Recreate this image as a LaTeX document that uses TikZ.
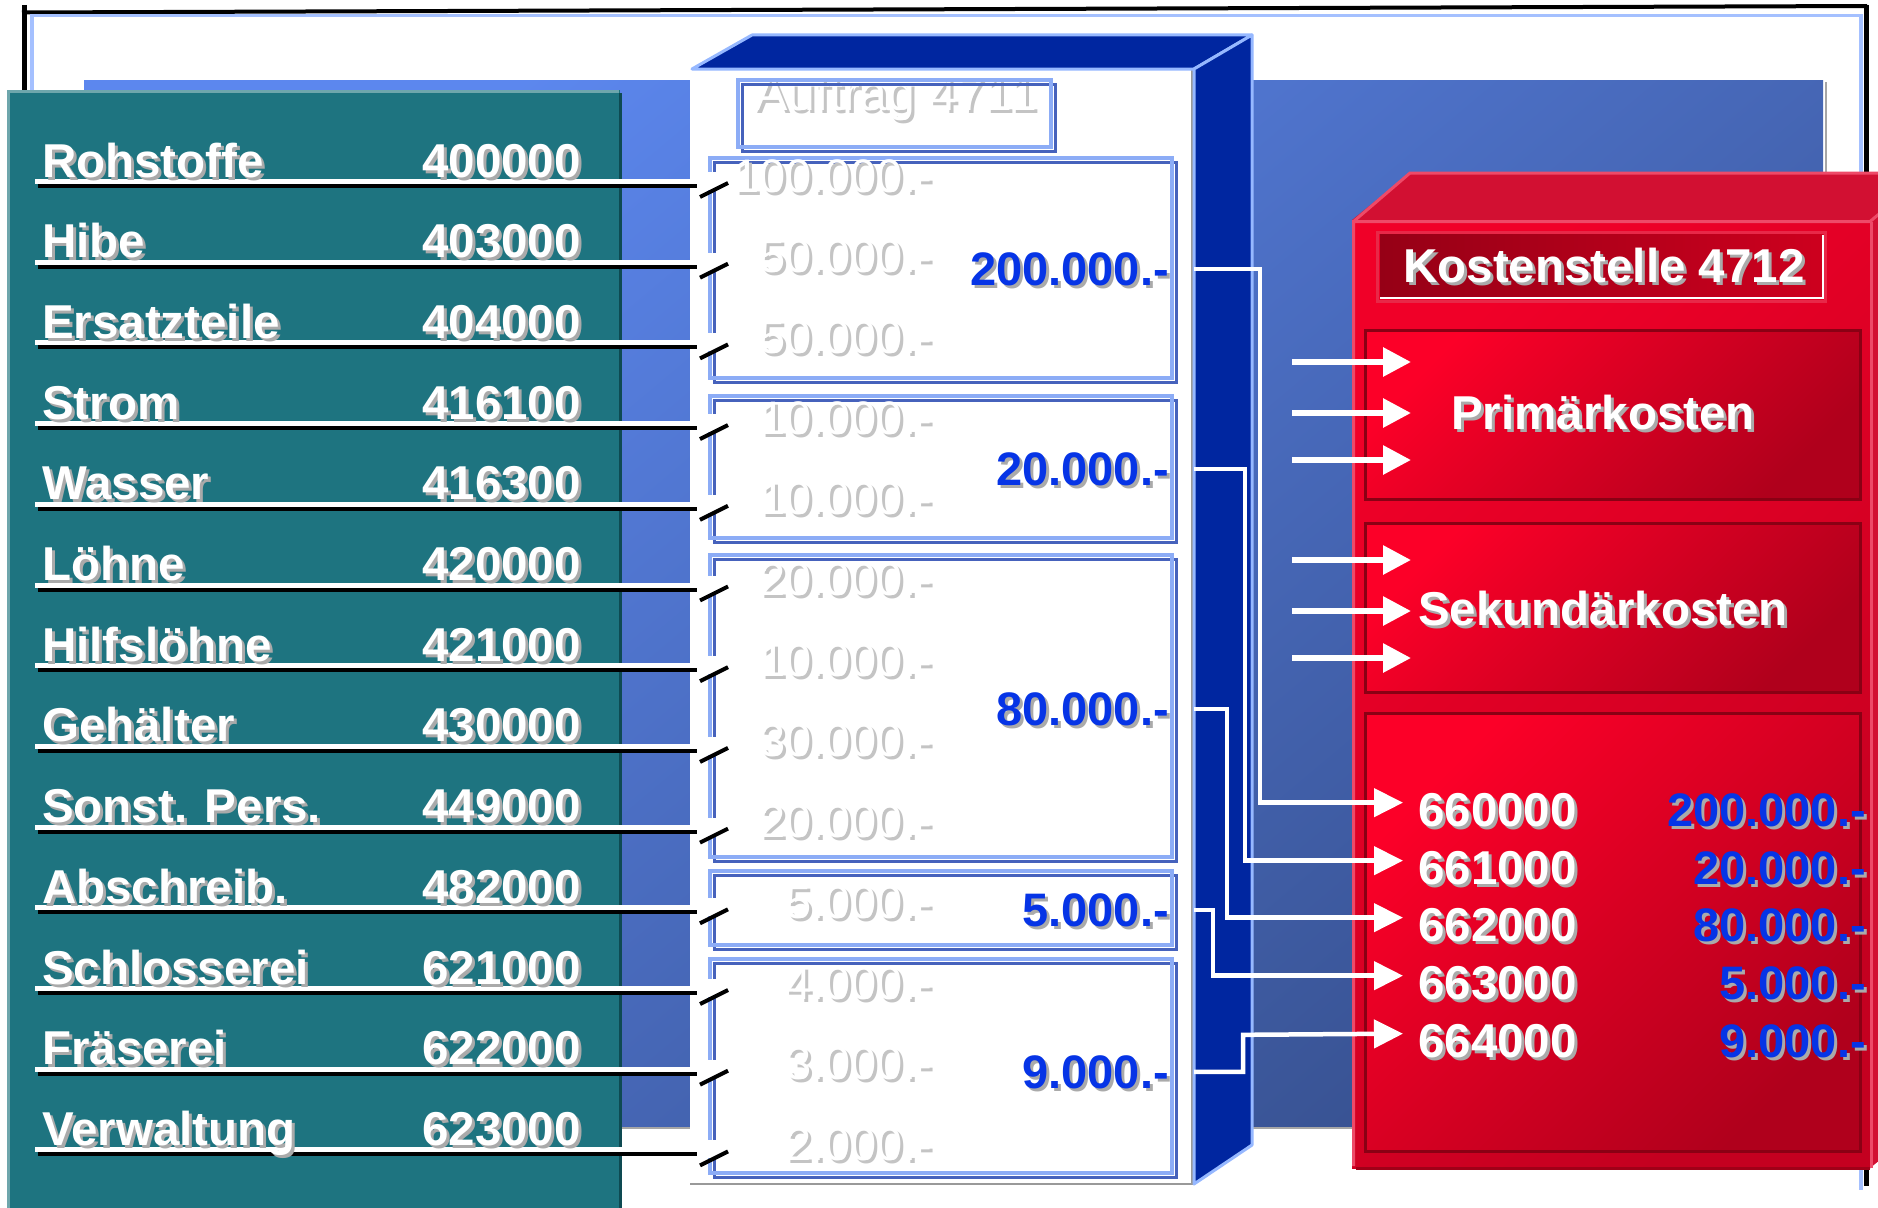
\documentclass[tikz,border=0pt]{standalone}
\usepackage{fontspec}
\setmainfont{Liberation Sans}
\usepackage{xcolor}
\usepackage{tikz}
\usetikzlibrary{arrows.meta}
\usetikzlibrary{calc}
\definecolor{tealbox}{RGB}{30,116,128}
\definecolor{tealedge}{RGB}{110,166,172}
\definecolor{tealdark}{RGB}{14,74,82}
\definecolor{bglight}{RGB}{92,135,238}
\definecolor{bgdark}{RGB}{56,82,146}
\definecolor{frameblue}{RGB}{164,192,255}
\definecolor{cubeblue}{RGB}{0,38,160}
\definecolor{edgeblue}{RGB}{150,184,255}
\definecolor{boxlight}{RGB}{140,172,246}
\definecolor{boxdark}{RGB}{70,98,188}
\definecolor{totblue}{RGB}{6,52,230}
\definecolor{shgrey}{RGB}{170,170,170}
\definecolor{embgrey}{RGB}{196,196,196}
\definecolor{redfront}{RGB}{240,0,40}
\definecolor{reddeep}{RGB}{196,0,32}
\definecolor{redtop}{RGB}{210,16,50}
\definecolor{rededge}{RGB}{238,74,104}
\definecolor{redshadow}{RGB}{160,0,24}
\definecolor{redpanel}{RGB}{138,0,20}
\definecolor{panelhi}{RGB}{252,0,40}
\definecolor{panello}{RGB}{176,0,28}
\definecolor{redtitle}{RGB}{150,0,22}
\definecolor{redtitlehi}{RGB}{205,0,30}
\definecolor{titleedge}{RGB}{232,40,72}
\tikzset{
    lbl/.style={inner sep=0pt, text=white, font=\fontsize{47.5}{47.5}\selectfont\bfseries},
    emb/.style={inner sep=0pt, text=white, font=\fontsize{47}{47}\selectfont},
    tot/.style={inner sep=0pt, text=totblue, font=\fontsize{47}{47}\selectfont\bfseries},
    ordertxt/.style={inner sep=0pt, text=white, font=\fontsize{50}{50}\selectfont},
    conn/.style={draw=white, line width=4.5pt, -{Triangle[length=29pt,width=28pt]}},
    inarrow/.style={draw=white, line width=6pt, -{Triangle[length=28pt,width=28pt]}},
    rowline/.style={line width=4pt, black},
    rowlight/.style={line width=5pt, white},
    slash/.style={line width=4pt, black},
    subbox/.style={draw=boxlight, line width=3.5pt},
    subshade/.style={draw=boxdark, line width=3pt}
}
% text with a grey drop shadow
\newcommand{\shtext}[6][shgrey]{%
    \node[#2, text=#1, anchor=#4] (#3s) at ($#5+(3,3)$) {#6};
    \node[#2, anchor=#4] (#3) at #5 {#6};}
\begin{document}
\begin{tikzpicture}[x=1pt,y=-1pt]
\clip (0,0) rectangle (1878,1207);
\fill[white] (0,0) rectangle (1878,1207);
% frame
\draw[line width=4pt] (22,12.5) -- (1867,6);
\draw[line width=4.5pt] (24.5,5) -- (24.5,92);
\draw[line width=5pt] (1866,5) -- (1866,1186);
\draw[frameblue, line width=3.5pt] (32,92) -- (32,15.5) -- (1861,15.5) -- (1861,1190);
% background
\shade[top color=bglight, bottom color=bgdark, shading angle=40] (84,80) rectangle (1823,1126);
\draw[gray!70, line width=2pt] (1826,82) -- (1826,1128) -- (86,1128);
% accounts
\fill[tealbox] (8,90) rectangle (620,1215);
\draw[tealedge, line width=3pt] (8.5,1215) -- (8.5,91.5) -- (619,91.5);
\draw[tealdark, line width=3pt] (620,93) -- (620,1215);

% order 4711
\fill[white] (690,69) rectangle (1194,1184);
\draw[gray!80, line width=2.5pt] (690,1184) -- (1192,1184) -- (1192,69);
\filldraw[fill=cubeblue, draw=edgeblue, line width=3pt, line join=round] (692,69) -- (752,35) -- (1252,35) -- (1194,69) -- cycle;
\filldraw[fill=cubeblue, draw=edgeblue, line width=3pt, line join=round] (1194,69) -- (1252,35) -- (1252,1145) -- (1194,1184) -- cycle;
\begin{scope}
    \clip (740,82) rectangle (1049,145);
    \shtext[embgrey]{ordertxt}{order}{base west}{(754,110)}{Auftrag 4711}
\end{scope}
\foreach \xa/\ya/\xb/\yb in {738/80/1051/147, 710/158/1172/378, 710/396/1172/538, 710/555/1172/857, 710/871/1172/945, 710/959/1172/1173}
{
    \draw[subshade] (\xa+4,\ya+4) rectangle (\xb+4,\yb+4);
    \draw[subbox] (\xa,\ya) rectangle (\xb,\yb);
}

\foreach \nm/\nr/\sub [count=\i] in {Rohstoffe/400000/100.000.-, Hibe/403000/50.000.-, Ersatzteile/404000/50.000.-, Strom/416100/10.000.-, Wasser/416300/10.000.-, Löhne/420000/20.000.-, Hilfslöhne/421000/10.000.-, Gehälter/430000/30.000.-, Sonst. Pers./449000/20.000.-, Abschreib./482000/5.000.-, Schlosserei/621000/4.000.-, Fräserei/622000/3.000.-, Verwaltung/623000/2.000.-}
{
    \pgfmathsetmacro{\yl}{186+80.7*(\i-1)}
    \pgfmathsetmacro{\we}{\i==13 ? 622 : 690}
    \coordinate (l\i) at (38,\yl);
    \coordinate (r\i) at (697,\yl);
    \draw[rowlight] (35,\yl-4.5) -- (\we,\yl-4.5);
    \draw[rowline] (l\i) -- (r\i);
    \fill[white] ($(r\i)+(7,-14)$) rectangle ($(r\i)+(20,4)$);
    \draw[slash] ($(r\i)+(3,11)$) -- ($(r\i)+(31,-3)$);
    \shtext{lbl}{n\i}{base west}{(42,\yl-9)}{\nm}
    \shtext{lbl}{k\i}{base east}{(581,\yl-9)}{\nr}
    \shtext[embgrey]{emb}{s\i}{base east}{(932,\yl+6)}{\sub}
}
\shtext{tot}{t1}{base east}{(1169,285)}{200.000.-}
\shtext{tot}{t2}{base east}{(1169,485)}{20.000.-}
\shtext{tot}{t3}{base east}{(1169,725)}{80.000.-}
\shtext{tot}{t4}{base east}{(1169,926)}{5.000.-}
\shtext{tot}{t5}{base east}{(1169,1088)}{9.000.-}

% cost centre 4712
\fill[redtop] (1870,220) -- (1928,173) -- (1928,1121) -- (1870,1168) -- cycle;
\fill[redtop] (1352,220) -- (1410,173) -- (1940,173) -- (1870,220) -- cycle;
\shade[top color=redfront, bottom color=reddeep, shading angle=45] (1352,220) rectangle (1870,1168);
\draw[rededge, line width=3pt] (1353.5,1166) -- (1353.5,221.5) -- (1870,221.5) -- (1928,173);
\draw[rededge, line width=3pt] (1353.5,221.5) -- (1410,173) -- (1940,173);
\draw[rededge, line width=3pt] (1871.5,221.5) -- (1871.5,1168);
\draw[redshadow, line width=3pt] (1356,1168) -- (1870,1168);
\draw[titleedge, line width=3pt] (1377.5,232.5) rectangle (1825.5,301.5);
\shade[left color=redtitle, right color=redtitlehi] (1380,234) rectangle (1823,298);
\draw[white, line width=2.5pt] (1380,298) -- (1823,298) -- (1823,235);
\shtext{lbl}{kst}{base}{(1604,282)}{Kostenstelle 4712}
\foreach \ya/\yb in {330/499, 523/692, 713/1151}
    \shadedraw[top color=panelhi, bottom color=panello, shading angle=45, draw=redpanel, line width=3pt] (1365,\ya) rectangle (1860,\yb);
\shtext{lbl}{prim}{base}{(1603,429)}{Primärkosten}
\shtext{lbl}{sek}{base}{(1603,625)}{Sekundärkosten}
\foreach \nr/\val/\yb [count=\j] in {660000/200.000.-/826, 661000/20.000.-/884, 662000/80.000.-/941, 663000/5.000.-/999, 664000/9.000.-/1057}
{
    \shtext{lbl}{a\j}{base west}{(1418,\yb)}{\nr}
    \shtext{tot}{v\j}{base east}{(1866,\yb)}{\val}
}
\foreach \y [count=\k] in {362,413,460,560,611,658}
    \draw[inarrow] (1292,\y) coordinate (q\k) -- ++(119,0);

% transfers
\draw[conn] ($(t1.east)+(25,0)$) -- ++(66,0) |- ($(a1.west)+(-15,-7)$);
\draw[conn] ($(t2.east)+(25,0)$) -- ++(51,0) |- ($(a2.west)+(-15,-7)$);
\draw[conn] ($(t3.east)+(25,0)$) -- ++(33,0) |- ($(a3.west)+(-15,-7)$);
\draw[conn] ($(t4.east)+(25,0)$) -- ++(19,0) |- ($(a4.west)+(-15,-7)$);
\draw[conn] ($(t5.east)+(25,0)$) -- ++(49,0) -- ++(0,-37) -- ($(a5.west)+(-15,-7)$);
\end{tikzpicture}
\end{document}
